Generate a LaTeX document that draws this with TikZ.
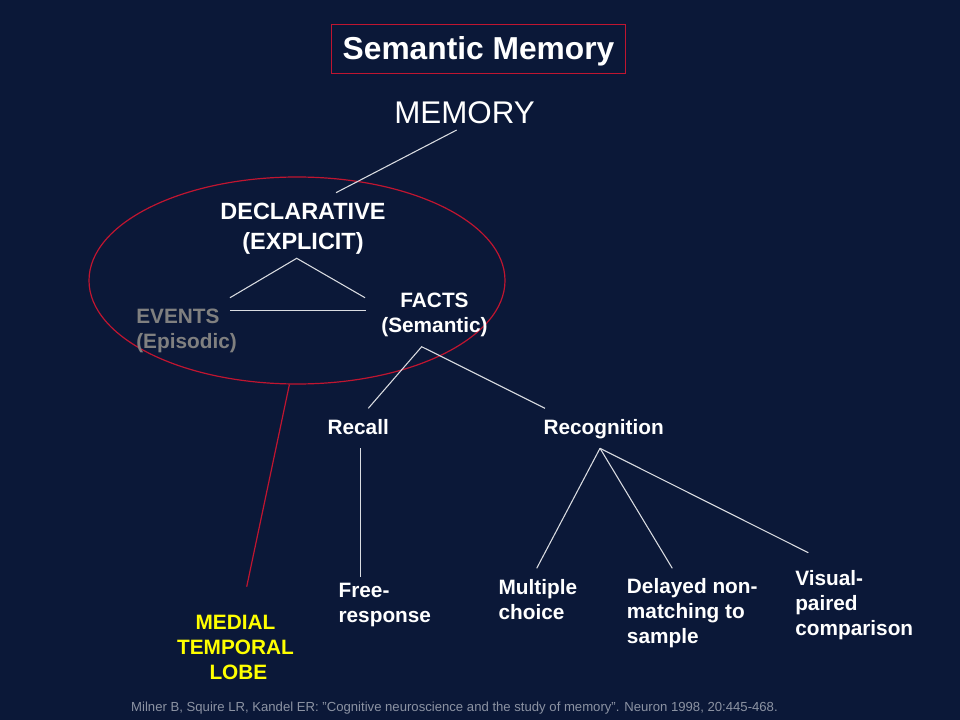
\documentclass[tikz,border=0pt]{standalone}
\usepackage{fontspec}
\setmainfont{Liberation Sans}
\usetikzlibrary{calc}
\definecolor{slidebg}{HTML}{0B1838}
\definecolor{slidered}{HTML}{C01530}
\definecolor{lobeyellow}{HTML}{FFFF00}
\definecolor{eventgray}{HTML}{808080}
\definecolor{citegray}{HTML}{8C93A3}
\tikzset{
  lbl/.style={text=white, font=\bfseries\fontsize{15.6}{18.75}\selectfont, inner sep=0, align=left, anchor=base west},
  clbl/.style={lbl, align=center, anchor=base},
  link/.style={white!85!slidebg, line width=0.8pt},
  redlink/.style={slidered, line width=0.9pt},
}

\begin{document}
\begin{tikzpicture}[x=0.75pt, y=-0.75pt]
    \fill[slidebg] (0,0) rectangle (960,720);
    \node[draw=slidered, line width=0.9pt, text=white, minimum width=221pt, minimum height=36.75pt,
          text height=21.5pt, text depth=5pt,
          font=\bfseries\fontsize{23.8}{28}\selectfont] (title) at (478.5,48.7) {Semantic Memory};
    \node[text=white, inner sep=0, anchor=base, font=\fontsize{23.5}{28}\selectfont] (memory) at (464.5,123.3) {MEMORY};
    \draw[redlink] (297,280.5) ellipse [x radius=208, y radius=103.5];
    % multi-line labels sit on their last baseline
    \node[clbl, font=\bfseries\fontsize{17.6}{22.5}\selectfont] (decl) at (303,250) {DECLARATIVE\\(EXPLICIT)};
    \node[lbl, text=eventgray] (events) at (136,348.3) {EVENTS\\(Episodic)};
    \node[clbl] (facts) at (434.5,332.7) {FACTS\\(Semantic)};
    \node[lbl] (recall) at (327.3,434.3) {Recall};
    \node[lbl] (recog) at (543.3,434.3) {Recognition};
    \node[lbl] (free) at (338.3,622.3) {Free-\\response};
    \node[lbl] (multi) at (498.3,619.3) {Multiple\\choice};
    \node[lbl] (dnms) at (626.7,643.3) {Delayed non-\\matching to\\sample};
    \node[lbl] (vpc) at (795,635.7) {Visual-\\paired\\comparison};
    \node[clbl, text=lobeyellow] (mtl) at (235.5,679.3) {MEDIAL\\TEMPORAL\\~LOBE};
    \node[text=citegray, inner sep=0, anchor=base, font=\fontsize{9.85}{11}\selectfont] (cite) at (454.5,711)
      {Milner B, Squire LR, Kandel ER: "Cognitive neuroscience and the study of memory". Neuron 1998, 20:445-468.};
    % line ends
    \coordinate (memfoot) at (456.7,130);     \coordinate (declhead) at (336,192.7);
    \coordinate (declfoot) at (296.7,258.3);  \coordinate (evhead) at (230,297.7);
    \coordinate (facthead) at (365,297.7);
    \coordinate (evbar) at (230,310.3);       \coordinate (factbar) at (366,310.3);
    \coordinate (factfoot) at (421.7,346.7);  \coordinate (recallhead) at (368.3,408.3);
    \coordinate (recoghead) at (545,408.3);
    \coordinate (recallfoot) at (360.3,448.3); \coordinate (freehead) at (360.3,576.7);
    \coordinate (recogfoot) at (600,448.3);
    \coordinate (multihead) at (536.7,568.3); \coordinate (dnmshead) at (672.3,568.3);
    \coordinate (vpchead) at (808.3,552.7);
    \coordinate (ovalfoot) at (289.4,384.5);  \coordinate (mtlhead) at (246.7,586.7);
    \draw[link] (memfoot) -- (declhead);
    \draw[link] (evhead) -- (declfoot) -- (facthead);
    \draw[link] (evbar) -- (factbar);
    \draw[link] (recallhead) -- (factfoot) -- (recoghead);
    \draw[link] (recallfoot) -- (freehead);
    \foreach \n in {multihead,dnmshead,vpchead} {
      \draw[link] (recogfoot) -- (\n);
    }
    \draw[redlink] (ovalfoot) -- (mtlhead);
\end{tikzpicture}
\end{document}
